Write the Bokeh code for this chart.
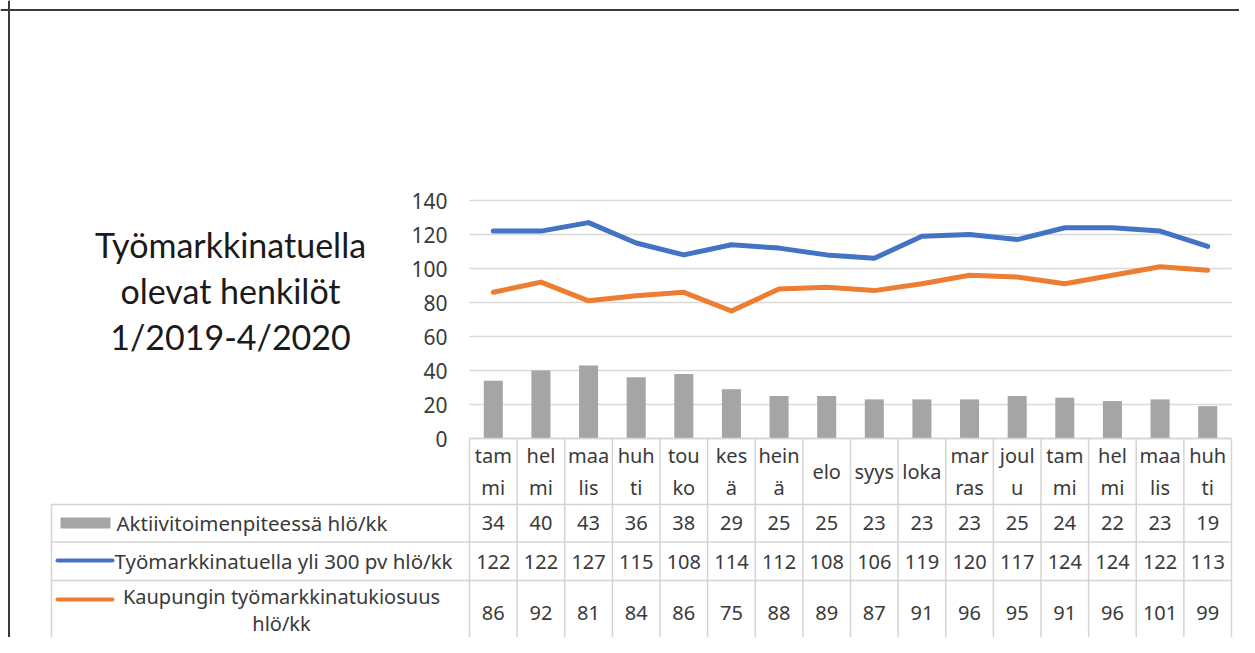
from bokeh.plotting import figure
from bokeh.models import Range1d, LinearAxis, FixedTicker, Span
from bokeh.core.properties import value
from bokeh.embed import file_html
from bokeh.resources import INLINE

# ---------------- data ----------------
months = ["tam\nmi", "hel\nmi", "maa\nlis", "huh\nti", "tou\nko", "kes\nä", "hein\nä", "elo",
          "syys", "loka", "mar\nras", "joul\nu", "tam\nmi", "hel\nmi", "maa\nlis", "huh\nti"]
aktiivi = [34, 40, 43, 36, 38, 29, 25, 25, 23, 23, 23, 25, 24, 22, 23, 19]
yli300 = [122, 122, 127, 115, 108, 114, 112, 108, 106, 119, 120, 117, 124, 124, 122, 113]
kaupunki = [86, 92, 81, 84, 86, 75, 88, 89, 87, 91, 96, 95, 91, 96, 101, 99]
series_names = ["Aktiivitoimenpiteessä hlö/kk",
                "Työmarkkinatuella yli 300 pv hlö/kk",
                "Kaupungin työmarkkinatukiosuus\nhlö/kk"]
series_colors = ["#A5A5A5", "#4472C4", "#ED7D31"]
y_ticks = [0, 20, 40, 60, 80, 100, 120, 140]
title_text = "Työmarkkinatuella\nolevat henkilöt\n1/2019-4/2020"

# ---------------- layout (pixels) ----------------
W, H = 1239, 637
X0 = 469.0          # left edge of plot area
CAT_W = 47.625      # width of one category
Y0 = 438.0          # y pixel of value 0
PPU = 1.7           # pixels per value unit


def fx(px):
    return (px - X0) / CAT_W - 0.5


def fy(py):
    return (Y0 - py) / PPU


n = len(months)
idx = list(range(n))

p = figure(width=W, height=H, output_backend="svg", toolbar_location=None,
           x_axis_type=None, y_axis_type=None,
           x_range=Range1d(fx(0), fx(W)),
           y_range=Range1d(fy(H), fy(0)),
           min_border=0, min_border_left=0, min_border_right=0,
           min_border_top=0, min_border_bottom=0)
p.outline_line_color = None
p.background_fill_color = "white"
p.border_fill_color = "white"

FONT = value("Noto Sans")
TXT = "#3a3a3a"
GRID = "#D9D9D9"

# y axis
yax = LinearAxis(fixed_location=-0.5, ticker=FixedTicker(ticks=y_ticks))
yax.axis_line_color = None
yax.major_tick_line_color = None
yax.minor_tick_line_color = None
yax.major_tick_out = 0
yax.major_label_standoff = 22
yax.major_label_text_font = "Noto Sans"
yax.major_label_text_font_size = "21px"
yax.major_label_text_color = TXT
p.add_layout(yax, "left")

# gridlines
p.segment(x0=[-0.5] * len(y_ticks), x1=[n - 0.5] * len(y_ticks), y0=y_ticks, y1=y_ticks,
          line_color=GRID, line_width=1.5)

# bars and lines
p.vbar(x=idx, top=aktiivi, bottom=0, width=0.4, fill_color=series_colors[0], line_color=None)
p.line(x=idx, y=yli300, line_color=series_colors[1], line_width=5, line_join="round", line_cap="round")
p.line(x=idx, y=kaupunki, line_color=series_colors[2], line_width=5, line_join="round", line_cap="round")

# ---------------- data table ----------------
row_edges = [438, 504, 541.5, 580, 649]
row_centers = [471, 522.5, 561, 612.5]
LEG_LEFT = 51
TBL = "#D4D4D4"

# horizontal lines
p.segment(x0=[-0.5], x1=[n - 0.5], y0=[fy(row_edges[0])], y1=[fy(row_edges[0])],
          line_color=TBL, line_width=1.5)
p.segment(x0=[fx(LEG_LEFT)] * 4, x1=[n - 0.5] * 4, y0=[fy(r) for r in row_edges[1:]],
          y1=[fy(r) for r in row_edges[1:]], line_color=TBL, line_width=1.5)
# vertical lines
p.segment(x0=[k - 0.5 for k in range(n + 1)], x1=[k - 0.5 for k in range(n + 1)],
          y0=[fy(row_edges[0])] * (n + 1), y1=[fy(row_edges[-1])] * (n + 1),
          line_color=TBL, line_width=1.5)
p.segment(x0=[fx(LEG_LEFT)], x1=[fx(LEG_LEFT)], y0=[fy(row_edges[1])], y1=[fy(row_edges[-1])],
          line_color=TBL, line_width=1.5)

# category labels
p.text(x=idx, y=[fy(row_centers[0])] * n, text=months, text_font=FONT, text_font_size="20px",
       text_color=TXT, text_align="center", text_baseline="middle", text_line_height=1.15)

# values
for r, vals in enumerate([aktiivi, yli300, kaupunki]):
    p.text(x=idx, y=[fy(row_centers[r + 1])] * n, text=[str(v) for v in vals], text_font=FONT,
           text_font_size="20px", text_color=TXT, text_align="center", text_baseline="middle")

# legend keys
p.quad(left=[fx(60)], right=[fx(110)], bottom=[fy(528)], top=[fy(517)],
       fill_color=series_colors[0], line_color=None)
p.segment(x0=[fx(57)], x1=[fx(112)], y0=[fy(560)], y1=[fy(560)], line_color=series_colors[1],
          line_width=4, line_cap="round")
p.segment(x0=[fx(57)], x1=[fx(112)], y0=[fy(599)], y1=[fy(599)], line_color=series_colors[2],
          line_width=4, line_cap="round")

# legend texts
p.text(x=[fx(116), fx(114)], y=[fy(522.5), fy(560)], text=series_names[:2], text_font=FONT,
       text_font_size="20.5px", text_color=TXT, text_align="left", text_baseline="middle")
p.text(x=[fx(281)], y=[fy(609)], text=[series_names[2]], text_font=FONT,
       text_font_size="20px", text_color=TXT, text_align="center", text_baseline="middle",
       text_line_height=1.0)

# title
p.text(x=[fx(230)], y=[fy(290)], text=[title_text], text_font=value("Lato"),
       text_font_size="34px", text_color="#1a1a1a", text_align="center", text_baseline="middle",
       text_line_height=1.12)

# outer border (top and left)
p.add_layout(Span(location=fy(9.5), dimension="width", line_color="#3a3a3a", line_width=2))
p.add_layout(Span(location=fx(8.5), dimension="height", line_color="#3a3a3a", line_width=2))

open("out.html", "w").write(file_html(p, INLINE))
